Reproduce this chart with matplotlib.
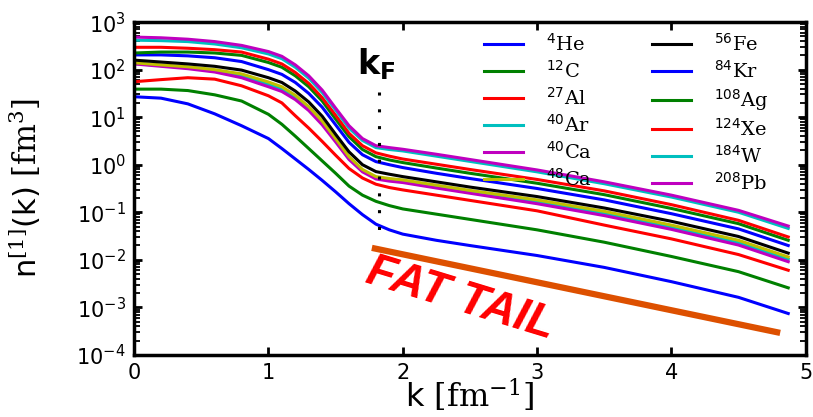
import numpy as np
import matplotlib
matplotlib.use('Agg')
import matplotlib.pyplot as plt
from matplotlib.ticker import LogLocator, NullFormatter

plt.rcParams['mathtext.fontset'] = 'custom'
plt.rcParams['mathtext.rm'] = 'DejaVu Serif'
plt.rcParams['mathtext.it'] = 'DejaVu Serif:italic'
plt.rcParams['mathtext.sf'] = 'DejaVu Sans'
plt.rcParams['mathtext.bf'] = 'DejaVu Sans:bold'

# momentum grid (fm^-1)
k = [0, 0.2, 0.4, 0.6, 0.8, 1.0, 1.1, 1.2, 1.3, 1.4, 1.5, 1.6, 1.7, 1.8,
     1.9, 2.0, 2.25, 2.5, 3.0, 3.5, 4.0, 4.5, 4.87]

# log10 of n(k) in fm^3
he4 = [1.43, 1.40, 1.28, 1.07, 0.82, 0.55, 0.34, 0.12, -0.10, -0.33, -0.57, -0.82, -1.05, -1.25,
       -1.37, -1.46, -1.59, -1.70, -1.91, -2.16, -2.46, -2.79, -3.13]
c12 = [1.59, 1.59, 1.56, 1.47, 1.34, 1.06, 0.85, 0.60, 0.34, 0.08, -0.18, -0.45, -0.64, -0.77,
       -0.86, -0.93, -1.04, -1.15, -1.37, -1.63, -1.93, -2.25, -2.59]
al27 = [1.746, 1.79, 1.83, 1.80, 1.66, 1.45, 1.30, 1.03, 0.77, 0.49, 0.20, -0.08, -0.28, -0.41,
        -0.48, -0.53, -0.64, -0.75, -0.97, -1.27, -1.56, -1.89, -2.22]
ar40 = [2.13, 2.085, 2.04, 1.975, 1.87, 1.69, 1.59, 1.415, 1.18, 0.88, 0.515, 0.14, -0.125, -0.275,
        -0.32, -0.35, -0.46, -0.57, -0.78, -1.03, -1.32, -1.64, -1.99]
ca40 = [2.12, 2.07, 2.02, 1.95, 1.83, 1.64, 1.54, 1.37, 1.14, 0.84, 0.48, 0.11, -0.15, -0.30,
        -0.345, -0.375, -0.49, -0.60, -0.82, -1.07, -1.36, -1.69, -2.04]
ca48 = [2.145, 2.10, 2.06, 2.00, 1.91, 1.74, 1.64, 1.46, 1.22, 0.92, 0.55, 0.17, -0.10, -0.25,
        -0.29, -0.32, -0.43, -0.54, -0.74, -0.98, -1.27, -1.59, -1.94]
fe56 = [2.20, 2.16, 2.12, 2.07, 1.99, 1.83, 1.73, 1.55, 1.32, 1.02, 0.64, 0.27, 0.0, -0.145,
        -0.20, -0.25, -0.36, -0.47, -0.67, -0.91, -1.19, -1.51, -1.86]
kr84 = [2.31, 2.31, 2.29, 2.25, 2.17, 2.00, 1.90, 1.73, 1.50, 1.21, 0.84, 0.47, 0.21, 0.065,
        0.0, -0.06, -0.18, -0.29, -0.50, -0.74, -1.03, -1.35, -1.70]
ag108 = [2.35, 2.37, 2.37, 2.35, 2.30, 2.15, 2.05, 1.87, 1.64, 1.34, 0.96, 0.59, 0.32, 0.17,
         0.10, 0.045, -0.07, -0.18, -0.39, -0.63, -0.92, -1.24, -1.59]
xe124 = [2.47, 2.47, 2.45, 2.42, 2.37, 2.22, 2.12, 1.94, 1.71, 1.41, 1.04, 0.66, 0.40, 0.25,
         0.18, 0.12, 0.01, -0.10, -0.31, -0.55, -0.84, -1.17, -1.52]
w184 = [2.62, 2.61, 2.59, 2.54, 2.46, 2.33, 2.23, 2.05, 1.82, 1.52, 1.15, 0.77, 0.51, 0.36,
        0.32, 0.29, 0.18, 0.07, -0.15, -0.40, -0.68, -1.00, -1.34]
pb208 = [2.685, 2.67, 2.64, 2.59, 2.51, 2.38, 2.28, 2.10, 1.87, 1.57, 1.19, 0.82, 0.55, 0.40,
         0.36, 0.325, 0.22, 0.11, -0.11, -0.36, -0.64, -0.96, -1.29]

series = [he4, c12, al27, ar40, ca40, ca48, fe56, kr84, ag108, xe124, w184, pb208]
labels = [r'$^{\mathsf{4}}\mathrm{He}$', r'$^{\mathsf{12}}\mathrm{C}$', r'$^{\mathsf{27}}\mathrm{Al}$',
          r'$^{\mathsf{40}}\mathrm{Ar}$', r'$^{\mathsf{40}}\mathrm{Ca}$', r'$^{\mathsf{48}}\mathrm{Ca}$',
          r'$^{\mathsf{56}}\mathrm{Fe}$', r'$^{\mathsf{84}}\mathrm{Kr}$', r'$^{\mathsf{108}}\mathrm{Ag}$',
          r'$^{\mathsf{124}}\mathrm{Xe}$', r'$^{\mathsf{184}}\mathrm{W}$', r'$^{\mathsf{208}}\mathrm{Pb}$']
colors = ['#0000ff', '#008000', '#ff0000', '#00bfbf', '#bf00bf', '#bfbf00',
          '#000000', '#0000ff', '#008000', '#ff0000', '#00bfbf', '#bf00bf']

# fermi momentum and the "fat tail" guide line
kF = 1.82
tail_k = [1.77, 4.81]
tail_n = [0.0178, 2.9e-4]

fig = plt.figure(figsize=(8.13, 4.17), dpi=100)
ax = fig.add_axes([0.165, 0.149, 0.826, 0.798])

for s, lab, c in zip(series, labels, colors):
    ax.plot(k, 10**np.array(s), color=c, lw=2.2, label=lab)

ax.plot([kF, kF], [34., 0.03], color='k', lw=2.2, linestyle=(0, (1, 4.5)))
ax.text(1.66, 78., r'$\mathbf{k_F}$', fontsize=24, ha='left', va='baseline')

ax.plot(tail_k, tail_n, color='#dd5000', lw=4.5, solid_capstyle='butt')
ax.text(2.43, 1.5e-3, 'FAT TAIL', color='#ff0000', fontsize=33, fontweight='bold',
        fontstyle='italic', family='Liberation Sans', rotation=-17,
        ha='center', va='center')

ax.set_yscale('log')
ax.set_xlim(0, 5)
ax.set_ylim(1e-4, 1e3)
ax.set_xticks([0, 1, 2, 3, 4, 5])
ax.yaxis.set_major_locator(LogLocator(base=10, numticks=20))
ax.yaxis.set_minor_locator(LogLocator(base=10, subs=np.arange(2, 10), numticks=20))
ax.yaxis.set_minor_formatter(NullFormatter())

ax.set_xlabel(r'k $[\mathrm{fm}^{-1}]$', fontsize=23, labelpad=-4)
ax.set_ylabel(r'n$^{[1]}$(k) $[\mathrm{fm}^3]$', fontsize=22, labelpad=24)

for sp in ax.spines.values():
    sp.set_linewidth(2.5)
ax.tick_params(which='both', direction='in', top=True, right=True)
ax.tick_params(which='major', length=6, width=2, labelsize=15, pad=6)
ax.tick_params(which='minor', length=4, width=1.3)

ax.legend(ncol=2, loc='upper right', bbox_to_anchor=(0.963, 1.0), frameon=False,
          fontsize=14, handlelength=2.0, columnspacing=3.1, labelspacing=0.3,
          borderaxespad=0.2, handletextpad=1.2)

fig.savefig('out.png', dpi=100)
